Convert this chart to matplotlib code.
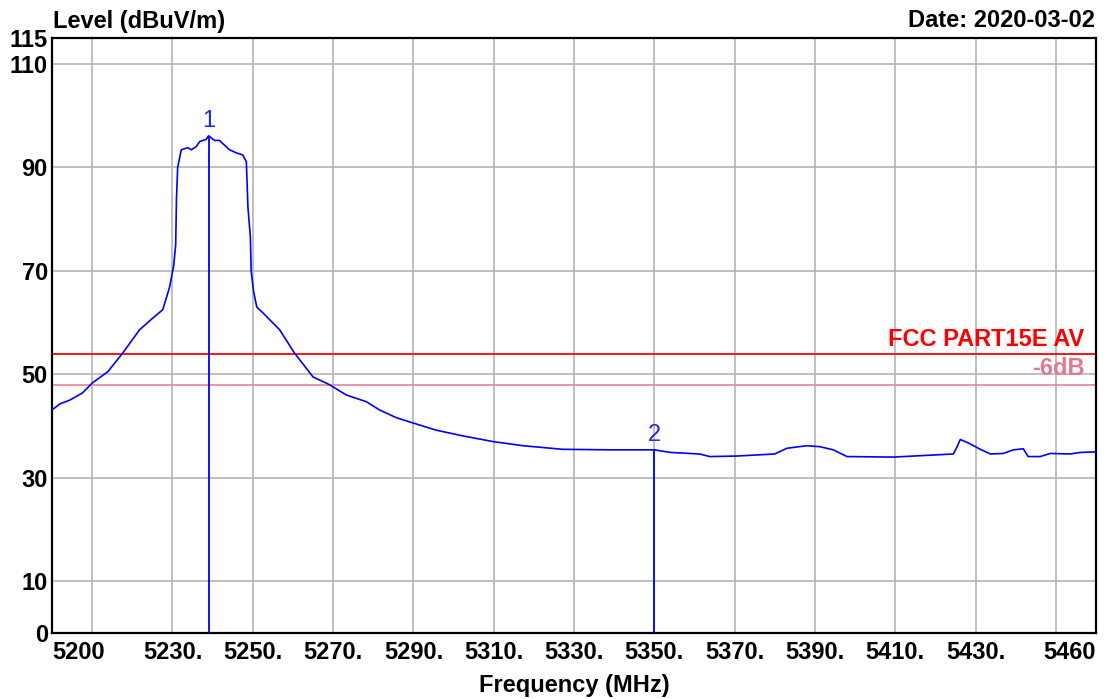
import matplotlib
matplotlib.use("Agg")
import matplotlib.pyplot as plt

plt.rcParams["font.family"] = ["Liberation Sans", "DejaVu Sans"]

# average-detector sweep, 5200-5460 MHz
freq_mhz = [
    5200, 5202, 5204.4, 5207.6, 5210, 5213.9, 5217.6, 5221.8, 5225, 5227.6,
    5229.3, 5230.3, 5230.8, 5231.0, 5231.3, 5232.2, 5233.8, 5234.7, 5235.9,
    5236.8, 5238.4, 5239.0, 5240.5, 5241.7, 5244.2, 5245.9, 5247.5, 5248.4,
    5248.5, 5248.8, 5249.4, 5249.6, 5250.2, 5251.0, 5252.5, 5256.7, 5260.4,
    5262.5, 5265.0, 5269.1, 5273.3, 5278.3, 5281.6, 5285.8, 5289.9, 5295.7,
    5302.3, 5309.8, 5317.3, 5327.2, 5339.7, 5350, 5354, 5361.3, 5363.8,
    5370.5, 5380, 5383, 5388, 5391.3, 5394.6, 5398, 5409.5, 5419.5, 5424.5,
    5425.4, 5426.2, 5428.3, 5431.2, 5433.7, 5436.9, 5439.4, 5441.9, 5443.1,
    5446.1, 5448.6, 5453.6, 5456.1, 5460,
]
level_dbuv = [
    43.1, 44.3, 45.0, 46.4, 48.3, 50.5, 54.1, 58.6, 60.8, 62.5,
    66.9, 71.0, 75.0, 84.0, 90.0, 93.4, 93.8, 93.4, 94.0,
    95.0, 95.4, 96.1, 95.2, 95.2, 93.4, 92.8, 92.4, 91.1,
    88.9, 82.2, 76.6, 70.0, 66.0, 63.0, 61.9, 58.6, 54.1,
    52.0, 49.5, 48.0, 46.0, 44.7, 43.1, 41.6, 40.6, 39.2,
    38.1, 37.0, 36.2, 35.5, 35.4, 35.4, 34.9, 34.6, 34.1,
    34.2, 34.6, 35.7, 36.2, 36.0, 35.4, 34.1, 34.0, 34.4, 34.6,
    36.0, 37.4, 36.7, 35.5, 34.6, 34.7, 35.4, 35.6, 34.1,
    34.1, 34.7, 34.6, 34.9, 35.0,
]

marker_ids = ["1", "2"]
marker_freq = [5239.0, 5350]
marker_level = [96.1, 35.4]

limit_av = 54
margin_db = 6

xticks = [5200, 5210] + list(range(5230, 5431, 20)) + [5450, 5460]
xticklabels = ["5200", ""] + [f"{f}." for f in range(5230, 5431, 20)] + ["", "5460"]
yticks = [0, 10, 30, 50, 70, 90, 110, 115]

W, H = 1120, 699
fig = plt.figure(figsize=(W / 100, H / 100), dpi=100)
ax = fig.add_axes([52 / W, 1 - 633 / H, (1096 - 52) / W, (633 - 38) / H])

ax.plot(freq_mhz, level_dbuv, color="#0000ff", lw=1.2, zorder=3)

ax.axhline(limit_av, color="#ff0000", lw=1.3, zorder=2)
ax.axhline(limit_av - margin_db, color="#ea8ca0", lw=1.3, zorder=2)

for mid, f, lv in zip(marker_ids, marker_freq, marker_level):
    ax.vlines(f, 0, lv, color="#0000ff", lw=1.3, zorder=3)
    ax.annotate(mid, (f, lv), xytext=(0, 3), textcoords="offset points",
                ha="center", va="bottom", fontsize=17, color="#2a2ad0")

ax.set_xlim(5200, 5460)
ax.set_ylim(0, 115)
ax.set_xticks(xticks)
ax.set_xticklabels(xticklabels, fontsize=17, fontweight="bold")
ax.set_yticks(yticks)
ax.set_yticklabels([str(v) for v in yticks], fontsize=17, fontweight="bold")
labels = ax.get_xticklabels()
labels[0].set_horizontalalignment("left")
labels[-1].set_horizontalalignment("right")
ax.tick_params(length=0, pad=6)
ax.tick_params(axis="y", pad=3)
ax.grid(True, color="#b4b4b4", lw=1.2, zorder=1)
for s in ax.spines.values():
    s.set_linewidth(1.6)
    s.set_color("black")

ax.text(0.989, limit_av + 1.5, "FCC PART15E AV", transform=ax.get_yaxis_transform(),
        ha="right", va="baseline", fontsize=17, fontweight="bold", color="#ff0000")
ax.text(0.989, limit_av - margin_db + 1.8, "-6dB", transform=ax.get_yaxis_transform(),
        ha="right", va="baseline", fontsize=17, fontweight="bold", color="#e07890")

fig.text(53 / W, 1 - 28 / H, "Level (dBuV/m)", ha="left", va="baseline",
         fontsize=17, fontweight="bold")
fig.text(1095 / W, 1 - 27 / H, "Date: 2020-03-02", ha="right", va="baseline",
         fontsize=17, fontweight="bold")
fig.text(574 / W, 1 - 692 / H, "Frequency (MHz)", ha="center", va="baseline",
         fontsize=17, fontweight="bold")

fig.savefig("out.png", dpi=100)
